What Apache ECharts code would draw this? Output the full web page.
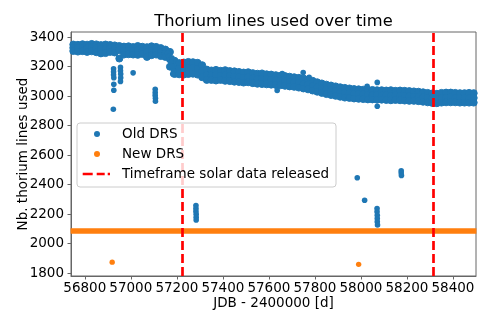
<!DOCTYPE html>
<html><head><meta charset="utf-8">
<script src="https://cdn.jsdelivr.net/npm/echarts@6/dist/echarts.min.js"></script>
<style>html,body{margin:0;padding:0;background:#fff}#c{width:491px;height:327px}</style>
</head><body><div id="c"></div>
<script>
// Observation dates (JDB - 2400000) sampled along the dense "Old DRS" / "New DRS" bands
const dates = [
56750,56770,56790,56810,56830,56850,56870,56890,56910,56930,
56950,56970,56990,57010,57030,57050,57070,57090,57110,57130,
57150,57170,57190,57210,57230,57250,57270,57290,57310,57330,
57350,57370,57390,57410,57430,57450,57470,57490,57510,57530,
57550,57570,57590,57610,57630,57650,57670,57690,57710,57730,
57750,57770,57790,57810,57830,57850,57870,57890,57910,57930,
57950,57970,57990,58010,58030,58050,58070,58090,58110,58130,
58150,58170,58190,58210,58230,58250,58270,58290,58310,58330,
58350,58370,58390,58410,58430,58450,58470,58490];
// Old DRS band: upper, middle and lower readings at each date
const oldHi = [
3350,3348,3352,3349,3354,3351,3346,3350,3347,3344,
3340,3336,3338,3333,3340,3335,3332,3338,3334,3326,
3316,3300,3240,3224,3228,3232,3230,3226,3210,3180,
3174,3178,3172,3176,3170,3168,3164,3160,3162,3156,
3152,3154,3148,3146,3142,3138,3136,3132,3128,3124,
3120,3112,3104,3094,3086,3078,3072,3066,3060,3056,
3052,3048,3046,3044,3042,3042,3040,3040,3038,3040,
3036,3038,3036,3034,3032,3030,3026,3022,3018,3016,
3022,3024,3024,3022,3020,3020,3022,3020];
const oldMid = [
3328,3326,3330,3324,3331,3325,3320,3322,3324,3320,
3312,3306,3310,3306,3312,3308,3300,3308,3305,3298,
3290,3250,3195,3186,3184,3192,3190,3186,3170,3146,
3142,3145,3140,3143,3136,3134,3130,3126,3128,3122,
3118,3118,3114,3112,3108,3106,3102,3098,3095,3090,
3084,3078,3070,3062,3054,3046,3040,3034,3028,3022,
3020,3016,3014,3012,3010,3008,3010,3006,3008,3004,
3006,3002,3004,3000,2998,2996,2992,2990,2986,2984,
2988,2990,2992,2988,2990,2986,2988,2988];
const oldLo = [
3306,3302,3305,3300,3304,3298,3290,3292,3300,3296,
3255,3282,3284,3282,3280,3286,3266,3278,3282,3272,
3266,3200,3150,3148,3146,3150,3152,3146,3128,3110,
3110,3106,3110,3104,3102,3098,3096,3092,3094,3088,
3084,3082,3080,3078,3076,3074,3070,3066,3063,3058,
3052,3046,3038,3030,3022,3014,3008,3002,2996,2990,
2988,2984,2982,2980,2978,2978,2976,2976,2974,2972,
2974,2972,2970,2968,2968,2966,2962,2958,2954,2952,
2956,2958,2958,2958,2956,2956,2956,2956];
// Old DRS isolated points [date, lines]
const oldOutliers = [
[57160,3290],[57165,3270],[57178,3260],[57175,3230],[57180,3200],[57185,3170],[57182,3150],
[56925,3185],[56925,3165],[56925,3145],[56926,3125],[56926,3080],[56926,3040],[56924,2911],
[56955,3195],[56955,3172],[56956,3150],[56956,3125],[56955,3100],
[57010,3158],
[57106,3046],[57106,3025],[57106,3005],[57107,2985],[57107,2965],
[57283,2258],[57283,2238],[57283,2218],[57284,2198],[57284,2178],[57284,2160],
[58016,2294],
[58070,2238],[58070,2215],[58071,2192],[58071,2170],[58071,2148],[58072,2126],
[57984,2446],
[58175,2494],[58175,2478],[58176,2462],
[57749,3160],[57775,3127],[57636,3039],[57658,3153],[58027,3066],[58071,3093],[58071,2931]];
// New DRS values at each date (dense band)
const newVals = [
2085,2086,2085,2085,2086,2085,2085,2086,2085,2085,
2086,2085,2085,2086,2085,2085,2086,2085,2085,2086,
2085,2085,2086,2085,2085,2086,2085,2085,2086,2085,
2085,2085,2086,2085,2085,2085,2086,2085,2086,2085,
2085,2085,2086,2085,2085,2086,2085,2085,2086,2085,
2085,2085,2086,2085,2085,2085,2086,2085,2086,2085,
2085,2085,2086,2085,2085,2086,2085,2085,2086,2085,
2085,2085,2086,2085,2085,2085,2086,2085,2085,2086,
2085,2085,2086,2085,2085,2086,2085,2085];
const newOutliers = [[56919,1874],[57990,1859]];
// Timeframe of released solar data (vertical dashed lines)
const timeframe = [57222, 58316];

const oldBand = [];
dates.forEach((d, i) => { oldBand.push([d, oldHi[i]], [d, oldMid[i]], [d, oldLo[i]]); });
const newBand = dates.map((d, i) => [d, newVals[i]]);

const FONT = 'DejaVu Sans';
const AX = '#666666';
const BLUE = '#1f77b4', ORANGE = '#ff7f0e';
const chart = echarts.init(document.getElementById('c'), null, {renderer: 'canvas'});
chart.setOption({
  animation: false,
  backgroundColor: '#ffffff',
  title: {
    text: 'Thorium lines used over time',
    left: 273.5, top: 14, padding: 0, textAlign: 'center',
    textStyle: {fontFamily: FONT, fontSize: 16.3, fontWeight: 'normal', color: '#000'}
  },
  grid: {left: 71, right: 15, top: 32, bottom: 51, show: true, borderColor: AX, borderWidth: 1, backgroundColor: 'transparent'},
  xAxis: {
    type: 'value', min: 56740, max: 58500, splitNumber: 9,
    name: 'JDB - 2400000 [d]', nameLocation: 'middle', nameGap: 20, nameMoveOverlap: false,
    nameTextStyle: {fontFamily: FONT, fontSize: 13.5, color: '#000'},
    axisLine: {show: true, onZero: false, lineStyle: {color: AX, width: 1}},
    axisTick: {show: true, length: 3.5, lineStyle: {color: AX}},
    axisLabel: {fontFamily: FONT, fontSize: 13.5, color: '#000', margin: 5, showMinLabel: false, showMaxLabel: false,
                formatter: v => String(v)},
    splitLine: {show: false}
  },
  yAxis: {
    type: 'value', min: 1780, max: 3435, splitNumber: 8,
    name: 'Nb. thorium lines used', nameLocation: 'middle', nameGap: 41, nameRotate: 90, nameMoveOverlap: false,
    nameTextStyle: {fontFamily: FONT, fontSize: 13.5, color: '#000'},
    axisLine: {show: true, onZero: false, lineStyle: {color: AX, width: 1}},
    axisTick: {show: true, length: 3.5, lineStyle: {color: AX}},
    axisLabel: {fontFamily: FONT, fontSize: 13.5, color: '#000', margin: 7, showMinLabel: false, showMaxLabel: false,
                formatter: v => String(v)},
    splitLine: {show: false}
  },
  legend: {
    orient: 'vertical', left: 77, top: 123,
    padding: [3, 7, 5, 2], itemGap: 4, itemWidth: 36, itemHeight: 6,
    backgroundColor: 'rgba(255,255,255,0.8)', borderColor: '#cccccc', borderWidth: 1, borderRadius: 3,
    textStyle: {fontFamily: FONT, fontSize: 13.5, color: '#000', lineHeight: 16, padding: [0, 0, 0, 2]},
    z: 20,
    data: [
      {name: 'Old DRS', icon: 'circle', itemStyle: {color: BLUE, borderWidth: 0}},
      {name: 'New DRS', icon: 'circle', itemStyle: {color: ORANGE, borderWidth: 0}},
      {name: 'Timeframe solar data released',
       icon: 'path://M0,0h0.01v0.01h-0.01z M36,6h-0.01v-0.01h0.01z M3.7,1.65h10v2.7h-10z M17.7,1.65h8v2.7h-8z M28.7,1.65h2.3v2.7h-2.3z',
       itemStyle: {color: '#ff0000', borderWidth: 0}}
    ]
  },
  series: [
    {name: 'Old DRS', type: 'scatter', data: oldBand, symbolSize: 7, large: false,
     itemStyle: {color: BLUE, opacity: 1, borderColor: BLUE, borderWidth: 1}, emphasis: {disabled: true}, z: 2},
    {name: 'Old DRS', type: 'scatter', data: oldOutliers, symbolSize: 5.6,
     itemStyle: {color: BLUE, opacity: 1}, emphasis: {disabled: true}, z: 2},
    {name: 'New DRS', type: 'line', data: newBand, symbol: 'none', showSymbol: false,
     lineStyle: {color: ORANGE, width: 5.5, cap: 'square', opacity: 1},
     itemStyle: {color: ORANGE}, emphasis: {disabled: true}, z: 3},
    {name: 'New DRS', type: 'scatter', data: newOutliers, symbolSize: 5.4,
     itemStyle: {color: ORANGE, opacity: 1}, emphasis: {disabled: true}, z: 3},
    {name: 'Timeframe solar data released', type: 'line', data: [], z: 5,
     itemStyle: {color: '#ff0000'}, lineStyle: {color: '#ff0000'},
     markLine: {
       silent: true, symbol: ['none', 'none'], label: {show: false}, animation: false,
       lineStyle: {color: '#ff0000', width: 2.7, type: [9, 4], opacity: 1},
       emphasis: {disabled: true},
       data: timeframe.map(v => ({xAxis: v}))
     }}
  ]
});
</script></body></html>
